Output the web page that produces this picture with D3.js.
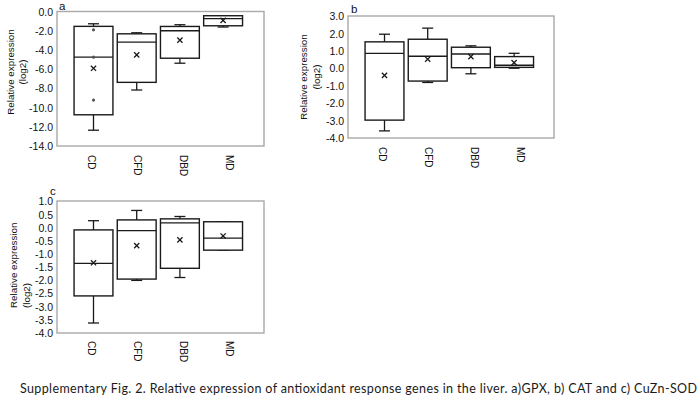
<!DOCTYPE html>
<html>
<head>
<meta charset="utf-8">
<script src="https://cdn.jsdelivr.net/npm/d3@7"></script>
<style>
  body { margin: 0; background: #fff; }
  svg { display: block; }
</style>
</head>
<body>
<div id="chart"></div>
<script>
const categories = ['CD', 'CFD', 'DBD', 'MD'];

// a) GPX
const gpxMin = [-12.35, -8.15, -5.35, -1.57];
const gpxQ1 = [-10.74, -7.35, -4.83, -1.44];
const gpxMedian = [-4.72, -3.15, -1.96, -0.70];
const gpxQ3 = [-1.50, -2.28, -1.51, -0.39];
const gpxMax = [-1.23, -2.17, -1.33, -0.39];
const gpxMean = [-5.88, -4.48, -2.94, -0.88];
const gpxPoints = [['CD', -1.86], ['CD', -4.72], ['CD', -9.20]];
const gpxTicks = [0, -2, -4, -6, -8, -10, -12, -14];

// b) CAT
const catMin = [-3.59, -0.80, -0.30, 0.02];
const catQ1 = [-2.97, -0.72, 0.05, 0.07];
const catMedian = [0.88, 0.71, 0.84, 0.19];
const catQ3 = [1.54, 1.69, 1.23, 0.69];
const catMax = [1.98, 2.33, 1.31, 0.88];
const catMean = [-0.39, 0.54, 0.69, 0.34];
const catTicks = [3, 2, 1, 0, -1, -2, -3, -4];

// c) CuZn-SOD
const sodMin = [-3.62, -2.00, -1.89, -0.85];
const sodQ1 = [-2.59, -1.95, -1.54, -0.85];
const sodMedian = [-1.35, -0.11, 0.19, -0.39];
const sodQ3 = [-0.08, 0.30, 0.34, 0.23];
const sodMax = [0.27, 0.66, 0.43, 0.23];
const sodMean = [-1.33, -0.68, -0.46, -0.31];
const sodTicks = [1, 0.5, 0, -0.5, -1, -1.5, -2, -2.5, -3, -3.5, -4];

const caption = 'Supplementary Fig. 2. Relative expression of antioxidant response genes in the liver. a)GPX, b) CAT and c) CuZn-SOD';

const svg = d3.select('#chart')
  .append('svg')
  .attr('width', 700)
  .attr('height', 397);

const boxColor = '#1a1a1a';

const drawPanel = cfg => {
  const rows = categories.map((c, i) => ({
    cat: c,
    min: cfg.min[i], q1: cfg.q1[i], med: cfg.median[i],
    q3: cfg.q3[i], max: cfg.max[i], mean: cfg.mean[i],
  }));

  const g = svg.append('g');

  const yScale = d3.scaleLinear()
    .domain(d3.extent(cfg.ticks))
    .range([cfg.bottom, cfg.top]);
  // boxes and labels sit on slightly different grids, like the source
  const xBox = d3.scaleBand()
    .domain(categories)
    .range([cfg.left + 14.9, cfg.left + 187.7])
    .paddingInner(0.1)
    .paddingOuter(0.05);
  const xLabel = d3.scaleBand()
    .domain(categories)
    .range([cfg.left + 11, cfg.left + 196]);

  // plot frame
  g.append('rect')
    .attr('x', cfg.left)
    .attr('y', cfg.top - 0.5)
    .attr('width', cfg.right - cfg.left)
    .attr('height', cfg.bottom - cfg.top + 0.5)
    .attr('fill', 'none')
    .attr('stroke', '#a9a9a9')
    .attr('stroke-width', 1.4);

  // y axis
  const yAxis = g.append('g')
    .attr('transform', `translate(${cfg.left - 4},0)`)
    .call(d3.axisLeft(yScale).tickValues(cfg.ticks).tickSize(0).tickPadding(0)
      .tickFormat(d => d.toFixed(1)));
  yAxis.select('.domain').remove();
  yAxis.selectAll('text')
    .attr('fill', '#111')
    .style('font-family', 'Liberation Sans, Arial, sans-serif')
    .style('font-size', '10.5px');

  // x axis
  const xAxis = g.append('g')
    .attr('transform', `translate(0,${cfg.bottom})`)
    .call(d3.axisBottom(xLabel).tickSize(0));
  xAxis.select('.domain').remove();
  xAxis.selectAll('text')
    .attr('transform', 'rotate(90)')
    .attr('x', cfg.labelGap)
    .attr('y', 0)
    .attr('dy', '0.35em')
    .attr('text-anchor', 'start')
    .attr('fill', '#111')
    .style('font-family', 'Liberation Sans, Arial, sans-serif')
    .style('font-size', '10px');

  // axis title
  const title = g.append('text')
    .attr('text-anchor', cfg.titleAnchor)
    .attr('transform', `translate(${cfg.titleX},${cfg.titleY}) rotate(-90)`)
    .attr('fill', '#111')
    .style('font-family', 'Liberation Sans, Arial, sans-serif')
    .style('font-size', '9.8px');
  title.append('tspan').attr('x', 0).attr('dy', '0.35em').text('Relative expression');
  title.append('tspan').attr('x', 0).attr('dy', 12.5).text('(log2)');

  // panel letter
  g.append('text')
    .attr('x', cfg.letterX)
    .attr('y', cfg.letterY)
    .attr('fill', '#111')
    .style('font-family', 'Liberation Sans, Arial, sans-serif')
    .style('font-size', '11.5px')
    .text(cfg.letter);

  const cx = d => xBox(d.cat) + xBox.bandwidth() / 2;
  const cap = 5.5;

  const boxes = g.selectAll('.box').data(rows).enter().append('g').attr('class', 'box');
  // whiskers
  boxes.append('line')
    .attr('x1', cx).attr('x2', cx)
    .attr('y1', d => yScale(d.max)).attr('y2', d => yScale(d.q3))
    .attr('stroke', boxColor).attr('stroke-width', 1.3);
  boxes.append('line')
    .attr('x1', cx).attr('x2', cx)
    .attr('y1', d => yScale(d.q1)).attr('y2', d => yScale(d.min))
    .attr('stroke', boxColor).attr('stroke-width', 1.3);
  boxes.append('line')
    .attr('x1', d => cx(d) - cap).attr('x2', d => cx(d) + cap)
    .attr('y1', d => yScale(d.max)).attr('y2', d => yScale(d.max))
    .attr('stroke', boxColor).attr('stroke-width', 1.3);
  boxes.append('line')
    .attr('x1', d => cx(d) - cap).attr('x2', d => cx(d) + cap)
    .attr('y1', d => yScale(d.min)).attr('y2', d => yScale(d.min))
    .attr('stroke', boxColor).attr('stroke-width', 1.3);
  // box
  boxes.append('rect')
    .attr('x', d => xBox(d.cat))
    .attr('y', d => yScale(d.q3))
    .attr('width', xBox.bandwidth())
    .attr('height', d => yScale(d.q1) - yScale(d.q3))
    .attr('fill', '#fff')
    .attr('stroke', boxColor)
    .attr('stroke-width', 1.4);
  // median
  boxes.append('line')
    .attr('x1', d => xBox(d.cat)).attr('x2', d => xBox(d.cat) + xBox.bandwidth())
    .attr('y1', d => yScale(d.med)).attr('y2', d => yScale(d.med))
    .attr('stroke', boxColor).attr('stroke-width', 1.3);
  // mean marker
  boxes.append('path')
    .attr('d', d => {
      const x = cx(d), y = yScale(d.mean), s = 2.6;
      return `M${x - s},${y - s}L${x + s},${y + s}M${x - s},${y + s}L${x + s},${y - s}`;
    })
    .attr('stroke', boxColor)
    .attr('stroke-width', 1.3);

  // inner points
  g.selectAll('.pt').data(cfg.points || []).enter().append('circle')
    .attr('cx', d => xBox(d[0]) + xBox.bandwidth() / 2)
    .attr('cy', d => yScale(d[1]))
    .attr('r', 1.6)
    .attr('fill', '#555');
};

drawPanel({
  letter: 'a', letterX: 59, letterY: 10,
  min: gpxMin, q1: gpxQ1, median: gpxMedian, q3: gpxQ3, max: gpxMax, mean: gpxMean,
  points: gpxPoints, ticks: gpxTicks,
  left: 57, right: 264, top: 12, bottom: 146, labelGap: 9,
  titleX: 10.5, titleY: 72, titleAnchor: 'middle',
});

drawPanel({
  letter: 'b', letterX: 351, letterY: 13,
  min: catMin, q1: catQ1, median: catMedian, q3: catQ3, max: catMax, mean: catMean,
  ticks: catTicks,
  left: 348, right: 554, top: 16.5, bottom: 138, labelGap: 9,
  titleX: 304, titleY: 77, titleAnchor: 'middle',
});

drawPanel({
  letter: 'c', letterX: 50, letterY: 195,
  min: sodMin, q1: sodQ1, median: sodMedian, q3: sodQ3, max: sodMax, mean: sodMean,
  ticks: sodTicks,
  left: 57, right: 264, top: 201.5, bottom: 333, labelGap: 8,
  titleX: 14, titleY: 308, titleAnchor: 'start',
});

svg.append('text')
  .attr('x', 20)
  .attr('y', 393)
  .attr('textLength', 677)
  .attr('lengthAdjust', 'spacing')
  .attr('fill', '#1a1a1a')
  .style('font-family', 'Lato, Open Sans, sans-serif')
  .style('font-size', '12.5px')
  .text(caption);
</script>
</body>
</html>
